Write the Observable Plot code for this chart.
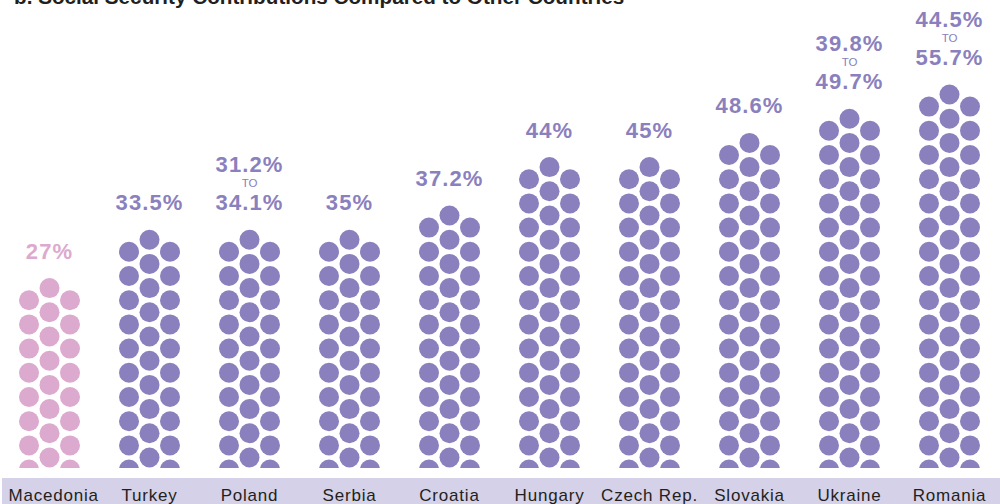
<!DOCTYPE html>
<html>
<head>
<meta charset="utf-8">
<script src="https://cdn.jsdelivr.net/npm/d3@7"></script>
<script src="https://cdn.jsdelivr.net/npm/@observablehq/plot@0.6"></script>
<style>
  html, body { margin: 0; padding: 0; background: #fff; overflow: hidden; }
  #wrap { position: relative; width: 1000px; height: 504px; overflow: hidden; font-family: "Liberation Sans", Arial, Helvetica, sans-serif; }
  #title { position: absolute; left: 14px; top: -12.8px; font-size: 20.7px; line-height: 20px; font-weight: bold; color: #231f20; white-space: nowrap; }
  #band { position: absolute; left: 2px; top: 478px; width: 998px; height: 26px; background: #d5d1e8; }
  #chart { position: absolute; left: 0; top: 0; width: 1000px; height: 504px; }
  #chart svg text { font-family: "Liberation Sans", Arial, Helvetica, sans-serif; }
</style>
</head>
<body>
<div id="wrap">
  <div id="band"></div>
  <div id="chart"></div>
  <div id="title">b. Social Security Contributions Compared to Other Countries</div>
</div>
<script>
// ---- data ----
const countries = ["Macedonia", "Turkey", "Poland", "Serbia", "Croatia", "Hungary", "Czech Rep.", "Slovakia", "Ukraine", "Romania"];
const rateLow  = [27, 33.5, 31.2, 35, 37.2, 44, 45, 48.6, 39.8, 44.5];
const rateHigh = [27, 33.5, 34.1, 35, 37.2, 44, 45, 48.6, 49.7, 55.7];
const dotRows  = [8, 10, 10, 10, 11, 13, 13, 14, 15, 16]; // dots in the centre column of each stack
const highlight = "Macedonia";

const purple = "#8a80bd";
const pink = "#dca9cf";

const table = countries.map((c, i) => ({
  country: c, low: rateLow[i], high: rateHigh[i], rows: dotRows[i],
  group: c === highlight ? "highlight" : "other"
}));
const ranged = table.filter(d => d.low !== d.high);

const middleDots = [];
const sideDots = [];
for (const d of table) {
  for (let k = 0; k < d.rows; k++) {
    middleDots.push({country: d.country, row: k, group: d.group});
    sideDots.push({country: d.country, row: k - 0.5, group: d.group});
  }
}

const dotR = 10;
const colGap = 20.5;

const chart = Plot.plot({
  width: 1000,
  height: 504,
  marginTop: 0,
  marginBottom: 36,
  marginLeft: 0,
  marginRight: 0,
  style: {background: "transparent", fontFamily: "'Liberation Sans', Arial, Helvetica, sans-serif", overflow: "visible"},
  x: {type: "point", domain: countries, range: [45.7, 952.2], padding: 0, axis: null},
  y: {domain: [0, 15], range: [457, 94], axis: null},
  color: {domain: ["highlight", "other"], range: [pink, purple]},
  marks: [
    Plot.dot(middleDots, {x: "country", y: "row", r: dotR, fill: "group", clip: "frame"}),
    Plot.dot(sideDots, {x: "country", y: "row", r: dotR, fill: "group", dx: -colGap, clip: "frame"}),
    Plot.dot(sideDots, {x: "country", y: "row", r: dotR, fill: "group", dx: colGap, clip: "frame"}),
    // main (upper bound) value label
    Plot.text(table, {x: "country", y: d => d.rows - 1, text: d => d.high + "%", fill: "group",
      dy: -29.5, lineAnchor: "bottom", fontSize: 22, fontWeight: "bold"}),
    Plot.text(ranged, {x: "country", y: d => d.rows - 1, text: () => "TO", fill: "group",
      dy: -53, lineAnchor: "bottom", fontSize: 11.5}),
    Plot.text(ranged, {x: "country", y: d => d.rows - 1, text: d => d.low + "%", fill: "group",
      dy: -67.5, lineAnchor: "bottom", fontSize: 22, fontWeight: "bold"}),
    // category labels in the band
    Plot.text(table.slice(1), {x: "country", frameAnchor: "bottom", text: "country", dy: 32,
      lineAnchor: "bottom", fontSize: 17, fill: "#231f20"}),
    Plot.text(table.slice(0, 1), {frameAnchor: "bottom-left", text: "country", dx: 8, dy: 32,
      textAnchor: "start", lineAnchor: "bottom", fontSize: 17, fill: "#231f20"})
  ]
});
document.getElementById("chart").appendChild(chart);

// widen the lettering slightly to match the reference typeface
const textGroups = d3.select(chart).selectAll('g[aria-label="text"]').nodes();
[0, 2].forEach(i => d3.select(textGroups[i]).style("letter-spacing", "1.1px"));
[3, 4].forEach(i => d3.select(textGroups[i]).style("letter-spacing", "0.8px"));
</script>
</body>
</html>
